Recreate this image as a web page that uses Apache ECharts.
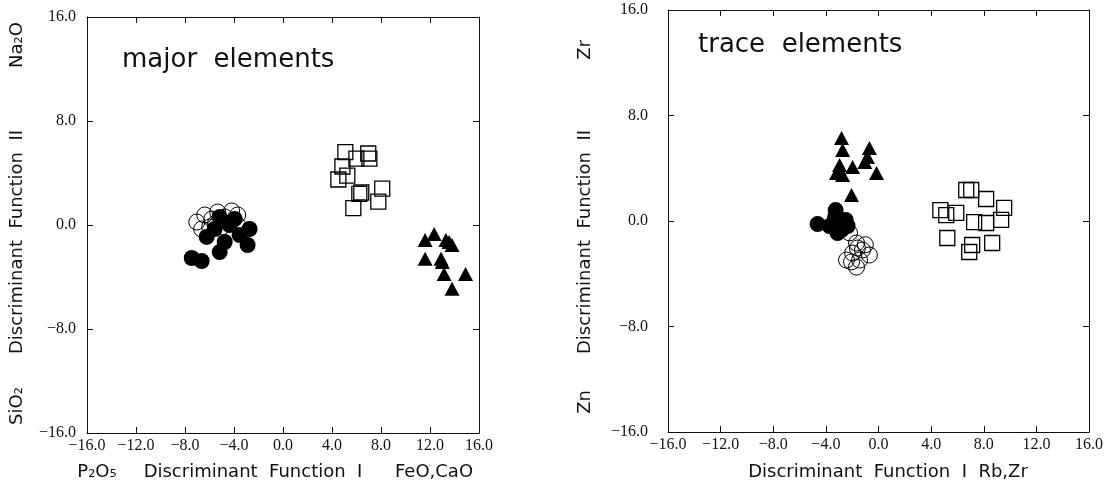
<!DOCTYPE html>
<html>
<head>
<meta charset="utf-8">
<script src="https://cdn.jsdelivr.net/npm/echarts@6/dist/echarts.min.js"></script>
<style>
  html, body { margin: 0; padding: 0; background: #fff; }
  #chart { width: 1106px; height: 497px; }
</style>
</head>
<body>
<div id="chart"></div>
<script>
// major elements panel
var majFilled = [[-7.45,-2.54],[-6.64,-2.77],[-5.17,-2.08],[-2.89,-1.54],[-2.73,-0.31],[-6.23,-0.92],
  [-5.58,-0.31],[-4.36,0],[-3.54,-0.77],[-4.76,-1.31],[-3.95,0.46],[-5.17,0.62]];
var majOpen = [[-7.04,0.23],[-6.39,0.77],[-5.82,0.46],[-5.33,1.0],[-4.76,0.62],[-4.19,1.08],[-3.7,0.77],
  [-5.98,-0.15],[-5.0,-0.15],[-4.36,0.15],[-6.64,-0.31],[-3.7,0.0],[-5.5,0.15]];
var majSquare = [[5.09,5.6],[5.99,5.1],[6.96,5.5],[7.05,5.1],[4.85,4.5],[5.25,3.8],[4.52,3.5],
  [6.23,2.4],[6.39,2.5],[8.1,2.8],[7.78,1.8],[5.74,1.3]];
var majTri = [[12.34,-0.69],[11.6,-1.15],[13.3,-1.15],[13.56,-1.3],[13.8,-1.54],[11.6,-2.6],
  [12.9,-2.6],[13.0,-2.85],[13.15,-3.77],[14.9,-3.77],[13.8,-4.9]];

// trace elements panel
var trFilled = [[-4.63,-0.23],[-3.72,-0.38],[-3.26,0.83],[-3.11,-0.91],[-2.5,0.08],[-2.35,-0.38],
  [-2.8,-0.68],[-3.3,0.3],[-2.9,0.0]];
var trOpen = [[-2.2,-0.9],[-1.67,-1.67],[-1.97,-2.43],[-1.22,-2.2],[-2.43,-2.96],[-1.44,-2.96],
  [-0.69,-2.58],[-1.67,-3.49],[-2.05,-3.1],[-1.6,-2.05],[-1.0,-1.8]];
var trSquare = [[6.67,2.35],[7.05,2.35],[8.18,1.67],[9.55,0.99],[4.7,0.83],[5.15,0.45],[5.91,0.61],
  [7.27,-0.08],[8.18,-0.15],[9.32,0.08],[5.23,-1.29],[8.64,-1.67],[7.12,-1.82],[6.9,-2.35]];
var trTri = [[-2.81,6.29],[-2.73,5.38],[-0.69,5.53],[-0.84,4.85],[-2.96,4.25],[-3.19,3.64],
  [-2.73,3.49],[-1.97,4.09],[-0.15,3.64],[-2.05,1.97],[-1.04,4.47]];

var axisMin = -16, axisMax = 16, xStep = 4, yStep = 8;

var serif = '"Liberation Serif", "DejaVu Serif", serif';
var sans = '"DejaVu Sans", sans-serif';

function fmt(v) {
  return (v < 0 ? '\u2212' : '') + Math.abs(v).toFixed(1);
}

function xAx(grid, pos, labels) {
  return {
    type: 'value', gridIndex: grid, position: pos, min: axisMin, max: axisMax, interval: xStep,
    axisLine: { show: true, onZero: false, lineStyle: { color: '#111', width: 1 } },
    axisTick: { show: true, inside: true, length: 6, lineStyle: { color: '#111' } },
    axisLabel: { show: labels, formatter: fmt, color: '#111', fontFamily: serif, fontSize: 16, margin: 5 },
    splitLine: { show: false }
  };
}
function yAx(grid, pos, labels, margin) {
  return {
    type: 'value', gridIndex: grid, position: pos, min: axisMin, max: axisMax, interval: yStep,
    axisLine: { show: true, onZero: false, lineStyle: { color: '#111', width: 1 } },
    axisTick: { show: true, inside: true, length: 6, lineStyle: { color: '#111' } },
    axisLabel: { show: labels, formatter: fmt, color: '#111', fontFamily: serif, fontSize: 16, margin: margin },
    splitLine: { show: false }
  };
}

function filled(data, xi, yi) {
  return { type: 'scatter', xAxisIndex: xi, yAxisIndex: yi, data: data, symbol: 'circle', symbolSize: 16,
    itemStyle: { color: '#000', opacity: 1 } };
}
function open(data, xi, yi) {
  return { type: 'scatter', xAxisIndex: xi, yAxisIndex: yi, data: data, symbol: 'circle', symbolSize: 16,
    itemStyle: { color: 'rgba(0,0,0,0)', borderColor: '#000', borderWidth: 1, opacity: 1 } };
}
function square(data, xi, yi) {
  return { type: 'scatter', xAxisIndex: xi, yAxisIndex: yi, data: data, symbol: 'rect', symbolSize: 15,
    itemStyle: { color: 'rgba(0,0,0,0)', borderColor: '#000', borderWidth: 1.3, opacity: 1 } };
}
function tri(data, xi, yi) {
  return { type: 'scatter', xAxisIndex: xi, yAxisIndex: yi, data: data, symbol: 'triangle', symbolSize: [15, 14],
    itemStyle: { color: '#000', opacity: 1 } };
}

function label(text, x, y, rot, size) {
  return { type: 'text', x: x, y: y, rotation: rot ? Math.PI / 2 : 0,
    style: { text: text, fill: '#111', fontFamily: sans, fontSize: size || 18,
      align: 'center', verticalAlign: 'middle' } };
}

var chart = echarts.init(document.getElementById('chart'));
var option = {
  backgroundColor: '#fff',
  animation: false,
  grid: [
    { left: 87, top: 17, width: 392, height: 416 },
    { left: 668, top: 10, width: 422, height: 422 }
  ],
  xAxis: [xAx(0, 'bottom', true), xAx(0, 'top', false), xAx(1, 'bottom', true), xAx(1, 'top', false)],
  yAxis: [yAx(0, 'left', true, 11), yAx(0, 'right', false, 0), yAx(1, 'left', true, 20), yAx(1, 'right', false, 0)],
  series: [
    filled(majFilled, 0, 0), open(majOpen, 0, 0), square(majSquare, 0, 0), tri(majTri, 0, 0),
    filled(trFilled, 2, 2), open(trOpen, 2, 2), square(trSquare, 2, 2), tri(trTri, 2, 2)
  ],
  graphic: [
    { type: 'text', x: 122, y: 60, style: { text: 'major  elements', fill: '#111', fontFamily: sans,
      fontSize: 26, verticalAlign: 'middle' } },
    { type: 'text', x: 698, y: 45, style: { text: 'trace  elements', fill: '#111', fontFamily: sans,
      fontSize: 26, verticalAlign: 'middle' } },
    label('SiO\u2082', 17, 406, true),
    label('Discriminant  Function  II', 17, 242, true),
    label('Na\u2082O', 17, 45, true),
    label('P\u2082O\u2085', 97, 472, false),
    label('Discriminant  Function  I', 253, 472, false),
    label('FeO,CaO', 434, 472, false),
    label('Zn', 585, 402, true),
    label('Discriminant  Function  II', 585, 242, true),
    label('Zr', 585, 50, true),
    label('Discriminant  Function  I  Rb,Zr', 888, 472, false)
  ]
};
chart.setOption(option);
</script>
</body>
</html>
